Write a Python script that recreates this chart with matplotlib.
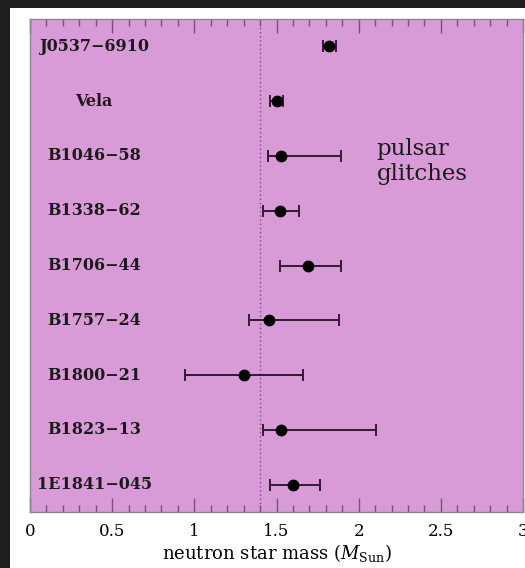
import matplotlib
matplotlib.use("Agg")
import matplotlib.pyplot as plt
from matplotlib.patches import Rectangle
from matplotlib.ticker import MultipleLocator

plt.rcParams["mathtext.fontset"] = "dejavuserif"

pulsars = ["J0537\u22126910", "Vela", "B1046\u221258", "B1338\u221262", "B1706\u221244",
           "B1757\u221224", "B1800\u221221", "B1823\u221213", "1E1841\u2212045"]
mass = [1.82, 1.50, 1.53, 1.52, 1.69, 1.455, 1.30, 1.525, 1.60]
mass_lo = [1.78, 1.46, 1.45, 1.42, 1.52, 1.33, 0.945, 1.42, 1.46]
mass_hi = [1.86, 1.54, 1.895, 1.635, 1.89, 1.88, 1.66, 2.105, 1.765]
ref_mass = 1.4

fig = plt.figure(figsize=(5.25, 5.68), dpi=100)
fig.patch.set_facecolor("#1e1e1e")
fig.patches.append(Rectangle((10/525, 0), 1, 1 - 8/568, transform=fig.transFigure,
                             facecolor="white", edgecolor="none", zorder=-10))

ax = fig.add_axes([30/525, 1 - 512/568, 493/525, (512 - 19)/568])
ax.set_facecolor("#d99bd8")

ypos = list(range(len(pulsars)))
xerr = [[m - lo for m, lo in zip(mass, mass_lo)], [hi - m for m, hi in zip(mass, mass_hi)]]
ax.errorbar(mass, ypos, xerr=xerr, fmt="o", color="black", ms=7.5,
            ecolor="#341a34", elinewidth=1.4, capsize=4, capthick=1.4, zorder=3)
ax.axvline(ref_mass, color="#7a4f7a", ls=(0, (1, 2)), lw=1.0, zorder=1)

for y, name in zip(ypos, pulsars):
    ax.text(0.39, y, name, ha="center", va="center", fontsize=11.5,
            fontweight="bold", family="DejaVu Serif", color="#1a1a1a")

ax.text(2.11, 2.1, "pulsar\nglitches", ha="left", va="center", fontsize=16.5,
        family="DejaVu Serif", color="#1a1a1a", linespacing=1.15)

ax.set_xlim(0, 3)
ax.set_ylim(8.5, -0.5)
ax.xaxis.set_minor_locator(MultipleLocator(0.1))
ax.set_xticks([0, 0.5, 1, 1.5, 2, 2.5, 3])
ax.set_xticklabels(["0", "0.5", "1", "1.5", "2", "2.5", "3"], family="DejaVu Serif", fontsize=12)
ax.set_yticks([])
ax.tick_params(axis="x", which="both", direction="in", top=True, bottom=True,
               color="#7a4f7a", pad=8)
ax.tick_params(axis="x", which="major", length=10, width=1)
ax.tick_params(axis="x", which="minor", length=5, width=1)
for s in ax.spines.values():
    s.set_color("#8a8a8a")
    s.set_linewidth(1.0)

ax.set_xlabel(r"neutron star mass ($\mathit{M}_{\rm Sun}$)", family="DejaVu Serif",
              fontsize=13, labelpad=1)

fig.savefig("out.png", dpi=100, facecolor=fig.get_facecolor())
